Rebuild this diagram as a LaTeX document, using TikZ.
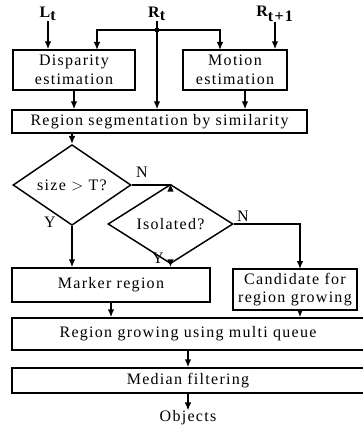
\documentclass[tikz,border=0pt]{standalone}
\usepackage{fontspec}
\setmainfont{Liberation Serif}[LetterSpace=8]
\usepackage{tikz}
\usetikzlibrary{shapes.geometric,arrows.meta}

\tikzset{
  box/.style={draw, line width=1.1pt, inner sep=0pt, align=center},
  test/.style={draw, diamond, line width=1.1pt, inner sep=0pt},
  arr/.style={-{Latex[length=6pt,width=5pt]}, line width=1.1pt},
  inlbl/.style={inner sep=0pt, font=\fontsize{12}{14}\selectfont\bfseries},
  yn/.style={inner sep=0pt},
}

\begin{document}
\begin{tikzpicture}[x=0.75pt,y=0.75pt,yscale=-1,xscale=1,font=\fontsize{12}{14}\selectfont]
\useasboundingbox (0,0) rectangle (363,438);

% Input Node
\node [inlbl] (Lt) at (48,14) {L$_{\textbf{t}}$};
% Input Node
\node [inlbl] (Rt) at (157,14) {R$_{\textbf{t}}$};
% Input Node
\node [inlbl] (Rn) at (275,14) {R$_{\textbf{t+1}}$};

% Shape: Rectangle
\node [box, minimum width=91.5pt, minimum height=30pt] (disp) at (74,70) {Disparity\\estimation};
% Shape: Rectangle
\node [box, minimum width=78pt, minimum height=30pt] (motion) at (235,70) {Motion\\estimation};
% Shape: Rectangle
\node [box, minimum width=221.25pt, minimum height=17.25pt] (seg) at (159.5,121.5) {Region segmentation by similarity};
% Shape: Diamond
\node [test, minimum width=88.5pt, minimum height=37.5pt] (size) at (72,185) {size $>$ T?};
% Shape: Diamond
\node [test, minimum width=93.75pt, minimum height=36pt] (iso) at (170.5,224) {Isolated?};
% Shape: Rectangle
\node [box, minimum width=148.5pt, minimum height=25.5pt] (marker) at (111,285) {Marker region};
% Shape: Rectangle
\node [box, minimum width=93pt, minimum height=30.75pt] (cand) at (295,289.5) {Candidate for\\region growing};
% Shape: Rectangle
\node [box, minimum width=264pt, minimum height=24pt] (grow) at (188,334) {Region growing using multi queue};
% Shape: Rectangle
\node [box, minimum width=264pt, minimum height=18.75pt] (median) at (188,380.5) {Median filtering};
% Text Node
\node [inner sep=0pt] (obj) at (188,418) {Objects};

% Branch points
\coordinate (jn) at (157,30);
\coordinate (dIn) at (97,50);
\coordinate (mIn) at (220,50);
\coordinate (mOut) at (245,90);
\coordinate (cIn) at (300,269);

% Inputs
\draw [arr] (Lt) -- (Lt |- disp.north);
\draw [arr] (Rn) -- (Rn |- motion.north);
\draw [line width=1.1pt] (Rt) -- (jn);
\draw [arr] (jn) -- (jn |- seg.north);
\draw [arr] (jn) -| (dIn);
\draw [arr] (jn) -| (mIn);
\fill (jn) circle (2.5);

% Estimation to segmentation
\draw [arr] (disp.south) -- (disp.south |- seg.north);
\draw [arr] (mOut) -- (mOut |- seg.north);
\draw [arr] (size.north |- seg.south) -- (size.north);

% Decisions
\draw [arr] (size.east) -| (iso.north);
\draw [arr] (size.south) -- (size.south |- marker.north);
\draw [arr] (iso.south) -- (iso.south |- marker.north);
\draw [arr] (iso.east) -| (cIn);
\node [yn] (n1) at (142,172) {N};
\node [yn] (y1) at (50,222) {Y};
\node [yn] (n2) at (243,216) {N};
\node [yn] (y2) at (158,258) {Y};

% Growing and output
\draw [arr] (marker.south) -- (marker.south |- grow.north);
\draw [arr] (cIn |- cand.south) -- (cIn |- grow.north);
\draw [arr] (grow.south) -- (grow.south |- median.north);
\draw [arr] (median.south) -- (obj);

\end{tikzpicture}
\end{document}
